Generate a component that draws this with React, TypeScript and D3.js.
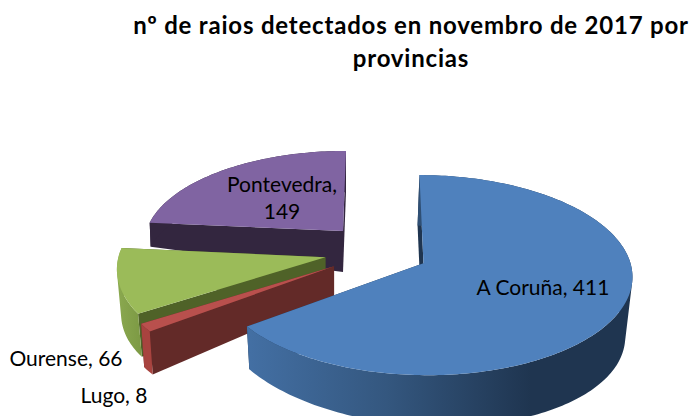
import React from 'react';
import * as d3 from 'd3';

const provinces = ['A Coruña', 'Lugo', 'Ourense', 'Pontevedra'];
const counts = [411, 8, 66, 149];
const titleLines = ['nº de raios detectados en novembro de 2017 por', 'provincias'];

const topColors = ['#4f81bd', '#b9504d', '#9bbb59', '#8064a2'];
const sideColors = ['#1f3550', '#632a28', '#4f6228', '#33263f'];
const rimColors = ['url(#blueRim)', '#a8433f', 'url(#greenRim)', '#33263f'];

// per slice tweaks of the fake 3D: the picture's perspective is not a clean disc
const scaleX = [1, 1.03, 1.0, 0.95];
const scaleY = [1, 1.03, 1.01, 0.91];
const lean = [4, 0, 0, -3];
const apexShift = [0, 0, -1, 1];
const wallDrop = [50.6, 30, 30, 41];
const wallSlope = [0.044, -0.07, -0.07, 0.087];
const wallShift = [-2, 0, 0, 0];
const wallInset = [0.975, 0.984, 0.98, 0.995];

const WIDTH = 690;
const HEIGHT = 416;
const center = { x: 377, y: 251 };
const radius = { x: 207, y: 98.6 };
const explode = { x: 52, y: 27 };
const perspective = 0.12;

const FONT = 'Lato, Carlito, sans-serif';

type Pt = [number, number];

const arcs = d3.pie<number>().sort(null).startAngle(0).endAngle(2 * Math.PI)(counts);

const toPath = d3.line<Pt>();

// flat polar angle -> point on the tilted disc, relative to the slice apex
function project(angle: number, i: number): Pt {
  const u = Math.sin(angle);
  const v = -Math.cos(angle);
  const w = 1 - perspective * v;
  return [(radius.x * scaleX[i] * u) / w + lean[i] * v, (radius.y * scaleY[i] * v) / w];
}

function sliceShapes(i: number) {
  const { startAngle, endAngle } = arcs[i];
  const mid = (startAngle + endAngle) / 2;
  const apex: Pt = [
    center.x + explode.x * Math.sin(mid) + apexShift[i],
    center.y - explode.y * Math.cos(mid),
  ];

  const top = (a: number): Pt => {
    const [dx, dy] = project(a, i);
    return [apex[0] + dx, apex[1] + dy];
  };
  const bottom = (a: number): Pt => {
    const [dx, dy] = project(a, i);
    return [
      apex[0] + wallShift[i] + dx * wallInset[i],
      apex[1] + dy + wallDrop[i] + wallSlope[i] * dx,
    ];
  };
  const apexBottom: Pt = [apex[0] + wallShift[i], apex[1] + wallDrop[i]];

  const n = Math.max(2, Math.ceil((endAngle - startAngle) / 0.02));
  const angles = d3.range(n + 1).map(k => startAngle + ((endAngle - startAngle) * k) / n);

  // rim as a strip of quads, all wound the same way so overlaps don't cancel out
  const rim = d3
    .pairs(angles)
    .map(([a, b]) => {
      const quad: Pt[] = [top(a), top(b), bottom(b), bottom(a)];
      return toPath(d3.polygonArea(quad) < 0 ? quad.reverse() : quad) + 'Z';
    })
    .join('');

  return {
    face: toPath([apex, ...angles.map(top)]) + 'Z',
    rim,
    wallEnd: toPath([apex, top(endAngle), bottom(endAngle), apexBottom]) + 'Z',
    wallStart: toPath([apex, top(startAngle), bottom(startAngle), apexBottom]) + 'Z',
  };
}

// back to front
const drawOrder = [3, 2, 1, 0];

export default function App() {
  return (
    <svg
      width={WIDTH}
      height={HEIGHT}
      viewBox={`0 0 ${WIDTH} ${HEIGHT}`}
      style={{ position: 'absolute', left: 0, top: 0, background: '#fff' }}
    >
      <defs>
        <linearGradient id="blueRim" gradientUnits="userSpaceOnUse" x1={250} x2={640} y1={0} y2={0}>
          <stop offset="0" stopColor="#436fa3" />
          <stop offset="0.35" stopColor="#34577f" />
          <stop offset="0.72" stopColor="#1f3550" />
          <stop offset="1" stopColor="#1f3550" />
        </linearGradient>
        <linearGradient id="greenRim" gradientUnits="userSpaceOnUse" x1={118} x2={145} y1={0} y2={0}>
          <stop offset="0" stopColor="#8aa84f" />
          <stop offset="1" stopColor="#7a9742" />
        </linearGradient>
      </defs>

      {titleLines.map((line, i) => (
        <text
          key={line}
          x={411}
          y={34 + i * 33}
          textAnchor="middle"
          fontFamily={FONT}
          fontWeight={700}
          fontSize={24}
          letterSpacing={0.8}
          fill="#000"
        >
          {line}
        </text>
      ))}

      {drawOrder.map(i => {
        const s = sliceShapes(i);
        return (
          <g key={provinces[i]}>
            <path d={s.wallEnd} fill={sideColors[i]} />
            <path d={s.wallStart} fill={sideColors[i]} />
            <path d={s.rim} fill={rimColors[i]} />
            <path d={s.face} fill={topColors[i]} />
          </g>
        );
      })}

      <g fontFamily={FONT} fontSize={21} fill="#000">
        <text x={282} y={192} textAnchor="middle">{`${provinces[3]},`}</text>
        <text x={282} y={219} textAnchor="middle">{counts[3]}</text>
        <text x={543} y={295} textAnchor="middle">{`${provinces[0]}, ${counts[0]}`}</text>
        <text x={66} y={366} textAnchor="middle">{`${provinces[2]}, ${counts[2]}`}</text>
        <text x={114} y={403} textAnchor="middle">{`${provinces[1]}, ${counts[1]}`}</text>
      </g>
    </svg>
  );
}
